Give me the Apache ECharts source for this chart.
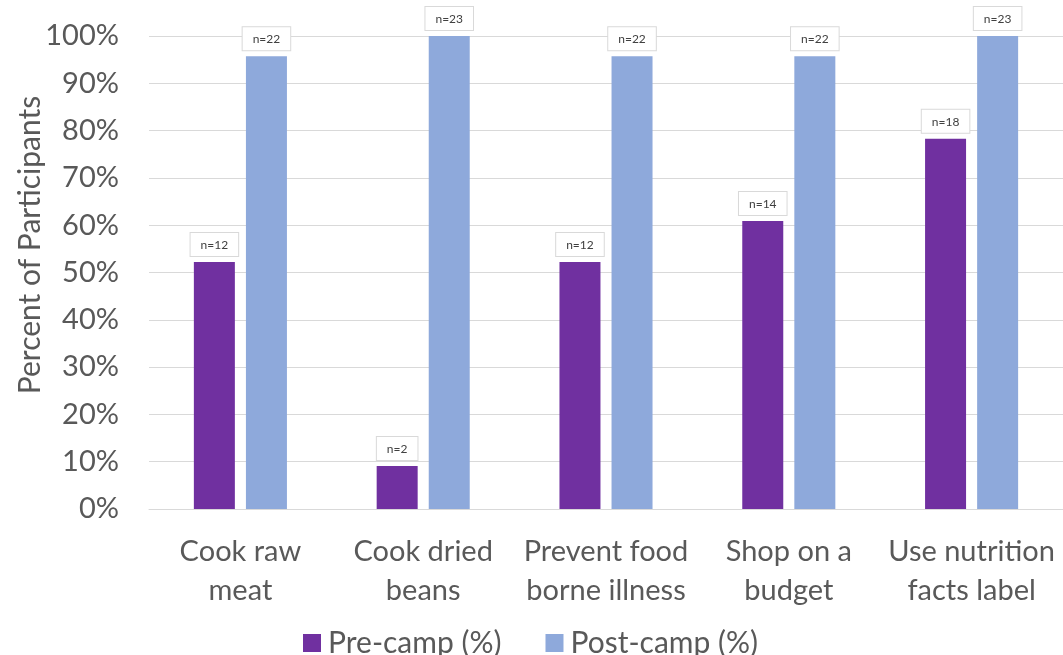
<!DOCTYPE html>
<html>
<head>
<meta charset="utf-8">
<script src="https://cdn.jsdelivr.net/npm/echarts@6/dist/echarts.min.js"></script>
<style>
  html, body { margin: 0; padding: 0; background: #fff; }
  #chart { width: 1063px; height: 655px; }
</style>
</head>
<body>
<div id="chart"></div>
<script>
// Skills reported by participants before and after camp
const categories = [
  'Cook raw\nmeat',
  'Cook dried\nbeans',
  'Prevent food\nborne illness',
  'Shop on a\nbudget',
  'Use nutrition\nfacts label'
];
const preCampPct = [52.2, 9.1, 52.2, 60.9, 78.3];
const postCampPct = [95.7, 100, 95.7, 95.7, 100];
const preCampN = [12, 2, 12, 14, 18];
const postCampN = [22, 23, 22, 22, 23];
const seriesNames = ['Pre-camp (%)', 'Post-camp (%)'];

const FONT = 'Lato, "Open Sans", sans-serif';
const TEXT = '#595959';

const nLabel = (counts) => ({
  show: true,
  position: 'top',
  distance: 6,
  formatter: (p) => 'n=' + counts[p.dataIndex],
  fontFamily: FONT,
  fontSize: 12,
  color: '#404040',
  backgroundColor: '#fff',
  borderColor: '#d9d9d9',
  borderWidth: 1,
  padding: [6, 10, 5, 10]
});

const chart = echarts.init(document.getElementById('chart'));
chart.setOption({
  animation: false,
  grid: { left: 149, top: 36, width: 917, height: 473, containLabel: false },
  legend: {
    data: seriesNames,
    icon: 'rect',
    top: 623,
    left: 298,
    itemWidth: 18,
    itemHeight: 18,
    itemGap: 44,
    textStyle: { fontFamily: FONT, fontSize: 30, color: TEXT, padding: [0, 0, 0, 2] }
  },
  graphic: [{
    type: 'text',
    x: 30,
    y: 245,
    rotation: Math.PI / 2,
    style: {
      text: 'Percent of Participants',
      fontFamily: FONT,
      fontSize: 30,
      fill: TEXT,
      align: 'center',
      verticalAlign: 'middle'
    }
  }],
  xAxis: {
    type: 'category',
    data: categories,
    axisLine: { lineStyle: { color: '#d9d9d9', width: 1 } },
    axisTick: { show: false },
    axisLabel: {
      interval: 0,
      margin: 23,
      fontFamily: FONT,
      fontSize: 29,
      lineHeight: 39,
      color: TEXT
    }
  },
  yAxis: {
    type: 'value',
    min: 0,
    max: 100,
    interval: 10,
    axisLine: { show: false },
    axisTick: { show: false },
    splitLine: { lineStyle: { color: '#d9d9d9', width: 1 } },
    axisLabel: {
      formatter: '{value}%',
      margin: 30,
      fontFamily: FONT,
      fontSize: 29,
      color: TEXT
    }
  },
  series: [
    {
      name: seriesNames[0],
      type: 'bar',
      data: preCampPct,
      barWidth: 41,
      barGap: '27%',
      itemStyle: { color: '#7030A0' },
      label: nLabel(preCampN)
    },
    {
      name: seriesNames[1],
      type: 'bar',
      data: postCampPct,
      barWidth: 41,
      itemStyle: { color: '#8EA9DB' },
      label: nLabel(postCampN)
    }
  ]
});
</script>
</body>
</html>
